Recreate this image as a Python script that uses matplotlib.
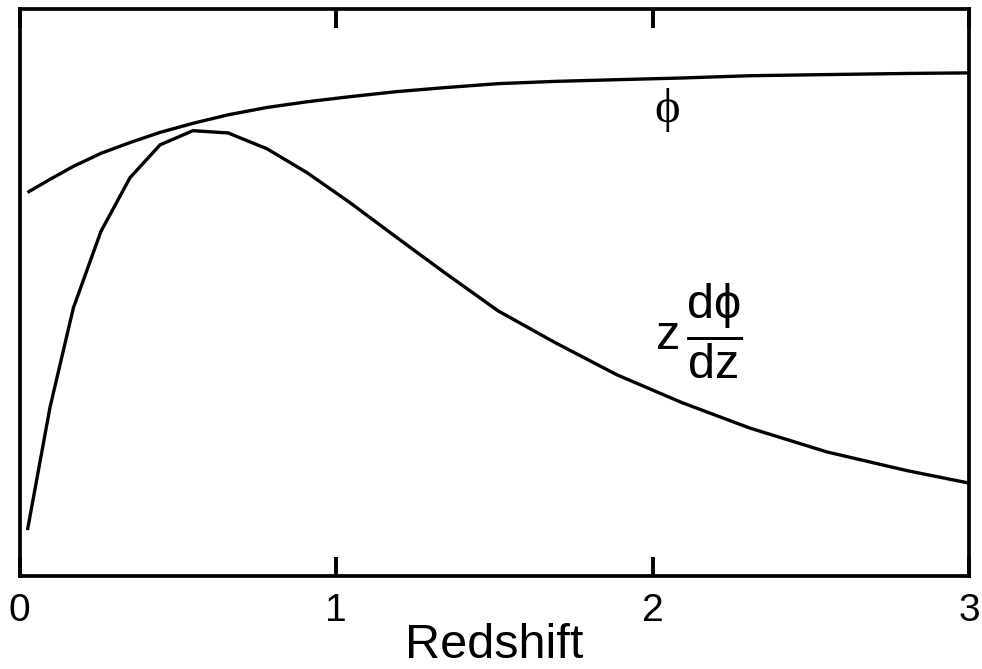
"""
phi(z) and z dphi/dz against redshift, drawn as two plain black polylines
in a boxed frame with inward ticks and no y scale.
"""

import matplotlib
matplotlib.use("Agg")
import matplotlib.pyplot as plt

# values (y in arbitrary units, 0 = bottom of frame, 1 = top)
redshift = [0.025, 0.096, 0.170, 0.257, 0.349, 0.444, 0.548, 0.659, 0.782, 0.908,
            1.044, 1.193, 1.344, 1.512, 1.692, 1.888, 2.093, 2.308, 2.551, 2.804, 3.0]
phi = [0.677, 0.700, 0.723, 0.746, 0.765, 0.783, 0.799, 0.814, 0.827, 0.837,
       0.846, 0.855, 0.862, 0.869, 0.873, 0.876, 0.879, 0.883, 0.885, 0.887, 0.888]
z_dphi_dz = [0.081, 0.297, 0.473, 0.608, 0.703, 0.761, 0.786, 0.782, 0.754, 0.712,
             0.659, 0.597, 0.535, 0.468, 0.412, 0.355, 0.306, 0.261, 0.219, 0.186, 0.164]
x_ticks = [0, 1, 2, 3]
x_tick_labels = ["0", "1", "2", "3"]

SANS = ["Liberation Sans", "DejaVu Sans"]
SERIF = ["Liberation Serif", "DejaVu Serif"]
LINE_W = 2.4


def main():
    plt.rcParams["font.family"] = SANS
    plt.rcParams["mathtext.fontset"] = "custom"
    plt.rcParams["mathtext.rm"] = "Liberation Sans"
    plt.rcParams["mathtext.it"] = "Liberation Sans"
    plt.rcParams["mathtext.fallback"] = "stixsans"

    fig = plt.figure(figsize=(9.82, 6.69), dpi=100)
    ax = fig.add_axes([0.0199, 0.139, 0.9669, 0.8469])

    ax.plot(redshift, phi, color="black", lw=LINE_W, solid_capstyle="butt")
    ax.plot(redshift, z_dphi_dz, color="black", lw=LINE_W, solid_capstyle="butt")

    ax.set_xlim(0, 3)
    ax.set_ylim(0, 1)

    # curve labels
    ax.text(2.046, 0.822, "\u03d5", family=SERIF, fontsize=35,
            ha="center", va="center")
    ax.text(2.147, 0.431, r"$\mathrm{z}\,\dfrac{\mathrm{d}\phi}{\mathrm{dz}}$",
            fontsize=35, ha="center", va="center")

    # frame: inward ticks top and bottom, no y scale
    for side in ax.spines.values():
        side.set_linewidth(2.7)
    ax.set_xticks(x_ticks)
    ax.set_xticklabels(x_tick_labels)
    ax.tick_params(axis="x", direction="in", length=14, width=2.8,
                   top=True, labelsize=28, pad=12)
    ax.set_yticks([])

    ax.set_xlabel("Redshift", fontsize=35, labelpad=-4)

    fig.savefig("out.png", dpi=100)


if __name__ == "__main__":
    main()
